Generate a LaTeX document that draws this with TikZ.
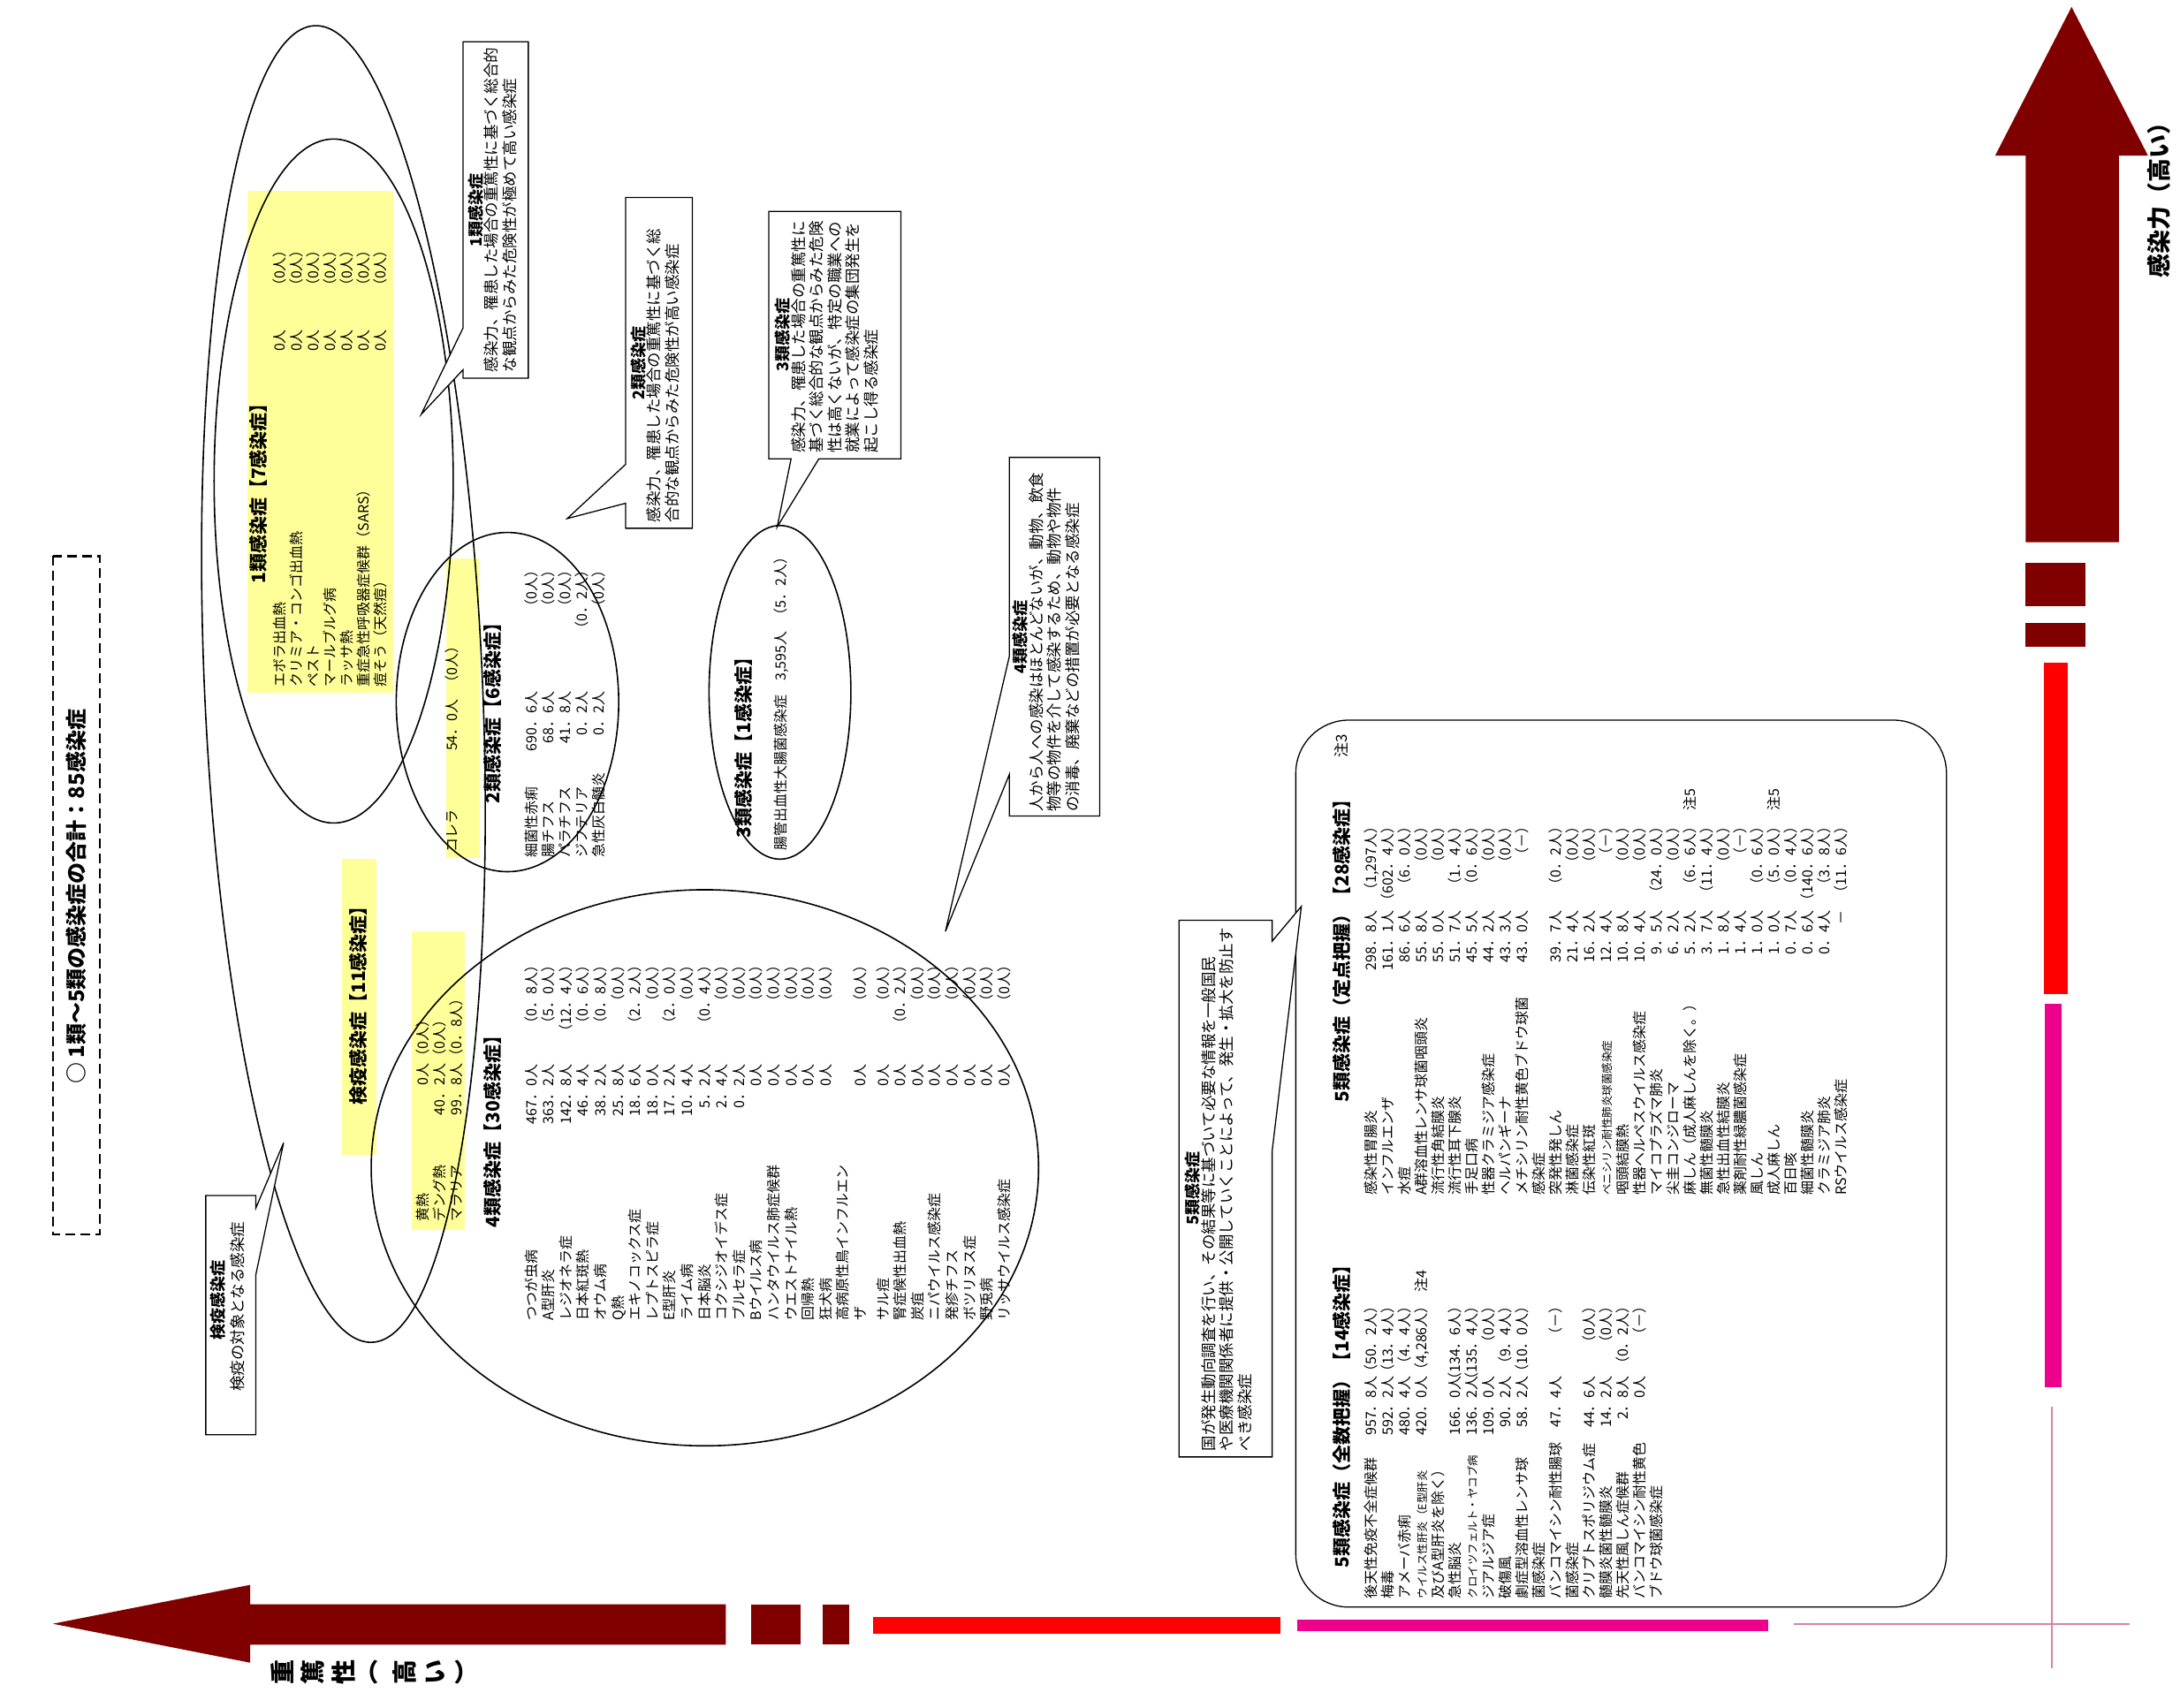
\documentclass[tikz,border=0pt]{standalone}
\usepackage{fontspec}
\setmainfont{Noto Sans CJK JP}
\definecolor{darkred}{RGB}{128,0,0}
\definecolor{hilite}{RGB}{255,255,153}
\definecolor{pinkline}{RGB}{214,130,170}
\newlength\wa
\newlength\wb
\newlength\wc
\newcommand\rw[3]{\makebox[\wa][l]{#1}\makebox[\wb][r]{#2}\makebox[\wc][r]{#3}}
\newcommand\rwl[3]{\makebox[\wa][l]{#1}\makebox[\wb][r]{#2}#3}
\newcommand\sm[1]{{\fontsize{12.5}{12.5}\selectfont #1}}
\tikzset{
  vt/.style={rotate=90,inner sep=0pt,align=left,font=\fontsize{16}{19}\selectfont},
  hd/.style={rotate=90,inner sep=0pt,font=\fontsize{21}{23}\selectfont\bfseries},
  ctitle/.style={rotate=90,inner sep=0pt,font=\fontsize{18}{20}\selectfont\bfseries},
  cbody/.style={rotate=90,inner sep=0pt,align=left,font=\fontsize{17.5}{20.5}\selectfont},
  cols/.code args={#1/#2/#3}{\setlength\wa{#1}\setlength\wb{#2}\setlength\wc{#3}},
  ring/.style={draw,line width=1.6pt},
  callout/.style={draw,fill=white,line width=1.3pt},
  hl/.style={fill=hilite}
}
\begin{document}
\begin{tikzpicture}[x=1.5733pt,y=-1.5733pt]
\useasboundingbox (0,0) rectangle (1568,1228);
\fill[white] (0,0) rectangle (1568,1228);

% title
\draw[line width=2.4pt,dash pattern=on 11pt off 6pt] (38,400) rectangle (72,888);
\node[rotate=90,font=\fontsize{24}{26}\selectfont\bfseries] (title) at (55,645) {○ 1類～5類の感染症の合計：85感染症};

% quarantine highlight
\fill[hl] (178,137) rectangle (283,498);
\fill[hl] (321,402) rectangle (345,617);
\fill[hl] (246,618) rectangle (271,831);
\fill[hl] (296,670) rectangle (334,885);

% groups
\draw[ring] (240,346) ellipse [x radius=86, y radius=246];
\draw[ring,rotate around={2.5:(247,492)}] (247,492) ellipse [x radius=100, y radius=474];
\draw[ring] (365,505) ellipse [x radius=80, y radius=122];
\draw[ring] (561,498) ellipse [x radius=51, y radius=120];
\draw[ring] (507,840) ellipse [x radius=240, y radius=200];
\draw[line width=1.3pt,rounded corners=60pt] (932,518) rectangle (1400,1156);

% callouts
\draw[callout] (333,30) -- (380,30) -- (380,272) -- (333,272) -- (333,266) -- (303,298) -- (333,236) -- cycle;
\node[ctitle] (c1t) at (342,151) {1類感染症};
\node[cbody,anchor=north west] (c1) at (348,268) {感染力、罹患した場合の重篤性に基づく総合的\\な観点からみた危険性が極めて高い感染症};

\draw[callout] (450,142) -- (498,142) -- (498,380) -- (450,380) -- (450,362) -- (408,373) -- (450,334) -- cycle;
\node[ctitle] (c2t) at (459,261) {2類感染症};
\node[cbody,anchor=north west] (c2) at (465,376) {感染力、罹患した場合の重篤性に基づく総\\合的な観点からみた危険性が高い感染症};

\draw[callout] (553,152) -- (648,152) -- (648,330) -- (589,330) -- (559,379) -- (569,330) -- (553,330) -- cycle;
\node[ctitle] (c3t) at (563,241) {3類感染症};
\node[cbody,anchor=north west] (c3) at (569,326) {感染力、罹患した場合の重篤性に\\基づく総合的な観点からみた危険\\性は高くないが、特定の職業への\\就業によって感染症の集団発生を\\起こし得る感染症};

\draw[callout] (726,329) -- (791,329) -- (791,587) -- (726,587) -- (726,557) -- (680,670) -- (726,472) -- cycle;
\node[ctitle] (c4t) at (734,458) {4類感染症};
\node[cbody,anchor=north west] (c4) at (740,584) {人から人への感染はほとんどないが、動物、飲食\\物等の物件を介して感染するため、動物や物件\\の消毒、廃棄などの措置が必要となる感染症};

\draw[callout] (848,662) -- (915,662) -- (915,677) -- (936,652) -- (915,828) -- (915,1048) -- (848,1048) -- cycle;
\node[ctitle] (c5t) at (858,855) {5類感染症};
\node[cbody,anchor=north west] (c5) at (864,1044) {国が発生動向調査を行い、その結果等に基づいて必要な情報を一般国民\\や医療機関関係者に提供・公開していくことによって、発生・拡大を防止す\\べき感染症};

\draw[callout] (148,860) -- (184,860) -- (184,869) -- (204,822) -- (184,917) -- (184,1032) -- (148,1032) -- cycle;
\node[ctitle] (cqt) at (157,935) {検疫感染症};
\node[cbody] (cq) at (171,940) {検疫の対象となる感染症};

% class 1
\node[hd,anchor=west] (h1) at (186,420) {1類感染症【7感染症】};
\node[vt,anchor=north west,cols=305pt/99pt/98pt] (l1) at (196,494) {%
\rw{エボラ出血熱}{0人}{（0人）}\\
\rw{クリミア・コンゴ出血熱}{0人}{（0人）}\\
\rw{ペスト}{0人}{（0人）}\\
\rw{マールブルグ病}{0人}{（0人）}\\
\rw{ラッサ熱}{0人}{（0人）}\\
\rw{重症急性呼吸器症候群（SARS）}{0人}{（0人）}\\
\rw{痘そう（天然痘）}{0人}{（0人）}};

% class 2
\node[vt,anchor=north west,cols=103pt/70pt/68pt] (l2a) at (320,613) {\rw{コレラ}{54．0人}{（0人）}};
\node[hd,anchor=west] (h2) at (354,578) {2類感染症【6感染症】};
\node[vt,anchor=north west,cols=105pt/83pt/145pt] (l2) at (377,617) {%
\rw{細菌性赤痢}{690．6人}{（0人）}\\
\rw{腸チフス}{68．6人}{（0人）}\\
\rw{パラチフス}{41．8人}{（0人）}\\
\rw{ジフテリア}{0．2人}{（0．2人）}\\
\rw{急性灰白髄炎}{0．2人}{（0人）}};

% class 3
\node[hd,anchor=west] (h3) at (535,603) {3類感染症【1感染症】};
\node[vt,anchor=west] (l3) at (562,612) {腸管出血性大腸菌感染症\hspace{16pt}3,595人\hspace{10pt}（5．2人）};

% quarantine
\node[hd,anchor=west] (hq) at (258,795) {検疫感染症【11感染症】};
\node[vt,anchor=north west,cols=109pt/70pt/0pt] (lq) at (299,879) {%
\rwl{黄熱}{0人}{（0人）}\\
\rwl{デング熱}{40．2人}{（0人）}\\
\rwl{マラリア}{99．8人}{（0．8人）}};

% class 4
\node[hd,anchor=west] (h4) at (354,883) {4類感染症【30感染症】};
\node[vt,anchor=north west,cols=200pt/90pt/120pt,font=\fontsize{16}{19.6}\selectfont] (l4) at (377,950) {%
\rw{つつが虫病}{467．0人}{（0．8人）}\\
\rw{A型肝炎}{363．2人}{（5．0人）}\\
\rw{レジオネラ症}{142．8人}{（12．4人）}\\
\rw{日本紅斑熱}{46．4人}{（0．6人）}\\
\rw{オウム病}{38．2人}{（0．8人）}\\
\rw{Q熱}{25．8人}{（0人）}\\
\rw{エキノコックス症}{18．6人}{（2．2人）}\\
\rw{レプトスピラ症}{18．0人}{（0人）}\\
\rw{E型肝炎}{17．2人}{（2．0人）}\\
\rw{ライム病}{10．4人}{（0人）}\\
\rw{日本脳炎}{5．2人}{（0．4人）}\\
\rw{コクシジオイデス症}{2．4人}{（0人）}\\
\rw{ブルセラ症}{0．2人}{（0人）}\\
\rw{Bウイルス病}{0人}{（0人）}\\
\rw{ハンタウイルス肺症候群}{0人}{（0人）}\\
\rw{ウエストナイル熱}{0人}{（0人）}\\
\rw{回帰熱}{0人}{（0人）}\\
\rw{狂犬病}{0人}{（0人）}\\
\rw{高病原性鳥インフルエン}{}{}\\
\rw{ザ}{0人}{（0人）}\\[6pt]
\rw{サル痘}{0人}{（0人）}\\
\rw{腎症候性出血熱}{0人}{（0．2人）}\\
\rw{炭疽}{0人}{（0人）}\\
\rw{ニパウイルス感染症}{0人}{（0人）}\\
\rw{発疹チフス}{0人}{（0人）}\\
\rw{ボツリヌス症}{0人}{（0人）}\\
\rw{野兎病}{0人}{（0人）}\\
\rw{リッサウイルス感染症}{0人}{（0人）}};

% class 5, sentinel
\node[hd,anchor=west] (h5a) at (965,793) {5類感染症（定点把握）【28感染症】};
\node[vt,anchor=east,font=\fontsize{17}{19}\selectfont] (n3) at (965,528) {注3};
\node[vt,anchor=north west,cols=250pt/72pt/103pt] (l5a) at (981,860) {%
\rw{感染性胃腸炎}{298．8人}{（1,297人）}\\
\rw{インフルエンザ}{161．1人}{（602．4人）}\\
\rw{水痘}{86．6人}{（6．0人）}\\
\rw{A群溶血性レンサ球菌咽頭炎}{55．8人}{（0人）}\\
\rw{流行性角結膜炎}{55．0人}{（0人）}\\
\rw{流行性耳下腺炎}{51．7人}{（1．4人）}\\
\rw{手足口病}{45．5人}{（0．6人）}\\
\rw{性器クラミジア感染症}{44．2人}{（0人）}\\
\rw{ヘルパンギーナ}{43．3人}{（0人）}\\
\rw{メチシリン耐性黄色ブドウ球菌}{43．0人}{（－）}\\
\rw{感染症}{}{}\\
\rw{突発性発しん}{39．7人}{（0．2人）}\\
\rw{淋菌感染症}{21．4人}{（0人）}\\
\rw{伝染性紅斑}{16．2人}{（0人）}\\
\rw{\sm{ペニシリン耐性肺炎球菌感染症}}{12．4人}{（－）}\\
\rw{咽頭結膜熱}{10．8人}{（0人）}\\
\rw{性器ヘルペスウイルス感染症}{10．4人}{（0人）}\\
\rw{マイコプラズマ肺炎}{9．5人}{（24．0人）}\\
\rw{尖圭コンジローマ}{6．2人}{（0人）}\\
\rw{麻しん（成人麻しんを除く。）}{5．2人}{（6．6人）}\hspace{10pt}注5\\
\rw{無菌性髄膜炎}{3．7人}{（11．4人）}\\
\rw{急性出血性結膜炎}{1．8人}{（0人）}\\
\rw{薬剤耐性緑膿菌感染症}{1．4人}{（－）}\\
\rw{風しん}{1．0人}{（0．6人）}\\
\rw{成人麻しん}{1．0人}{（5．0人）}\hspace{10pt}注5\\
\rw{百日咳}{0．7人}{（0．4人）}\\
\rw{細菌性髄膜炎}{0．6人}{（140．6人）}\\
\rw{クラミジア肺炎}{0．4人}{（3．8人）}\\
\rw{RSウイルス感染症}{－}{（11．6人）}};

% class 5, all cases
\node[hd,anchor=west] (h5b) at (965,1128) {5類感染症（全数把握）【14感染症】};
\node[vt,anchor=north west,cols=173pt/79pt/87pt] (l5b) at (981,1150) {%
\rw{後天性免疫不全症候群}{957．8人}{（50．2人）}\\
\rw{梅毒}{592．2人}{（13．4人）}\\
\rw{アメーバ赤痢}{480．4人}{（4．4人）}\\
\rw{\sm{ウイルス性肝炎（E型肝炎}}{420．0人}{（4,286人）}\hspace{8pt}注4\\
\rw{及びA型肝炎を除く）}{}{}\\
\rw{急性脳炎}{166．0人}{（134．6人）}\\
\rw{\sm{クロイツフェルト・ヤコブ病}}{136．2人}{（135．4人）}\\
\rw{ジアルジア症}{109．0人}{（0人）}\\
\rw{破傷風}{90．2人}{（9．4人）}\\
\rw{劇症型溶血性レンサ球}{58．2人}{（10．0人）}\\
\rw{菌感染症}{}{}\\
\rw{バンコマイシン耐性腸球}{47．4人}{（－）}\\
\rw{菌感染症}{}{}\\
\rw{クリプトスポリジウム症}{44．6人}{（0人）}\\
\rw{髄膜炎菌性髄膜炎}{14．2人}{（0人）}\\
\rw{先天性風しん症候群}{2．8人}{（0．2人）}\\
\rw{バンコマイシン耐性黄色}{0人}{（－）}\\
\rw{ブドウ球菌感染症}{}{}};

% axes
\fill[darkred] (38,1168) -- (180,1140) -- (180,1154) -- (522,1154) -- (522,1183) -- (180,1183) -- (180,1196) -- cycle;
\fill[darkred] (540,1154) rectangle (576,1183);
\fill[darkred] (592,1154) rectangle (611,1183);
\fill[red] (628,1163) rectangle (921,1175);
\fill[magenta] (933,1165) rectangle (1272,1173);
\draw[pinkline,line width=2pt] (1290,1168) -- (1532,1168);
\fill[darkred] (1490,5) -- (1545,112) -- (1524,112) -- (1524,390) -- (1457,390) -- (1457,112) -- (1435,112) -- cycle;
\fill[darkred] (1457,405) rectangle (1500,436);
\fill[darkred] (1457,448) rectangle (1500,465);
\fill[red] (1470,477) rectangle (1487,715);
\fill[magenta] (1471,722) rectangle (1483,998);
\draw[pinkline,line width=2pt] (1476,1012) -- (1476,1200);
\node[rotate=90,font=\fontsize{27}{30}\selectfont\bfseries] (yl) at (1553,140) {感染力（高い）};
\foreach \ch [count=\i] in {重,篤,性,︵,高,い,︶}
  \node[rotate=90,inner sep=0pt,font=\fontsize{28}{30}\selectfont\bfseries] (xl\i) at (181+22*\i,1203) {\ch};
\end{tikzpicture}
\end{document}
